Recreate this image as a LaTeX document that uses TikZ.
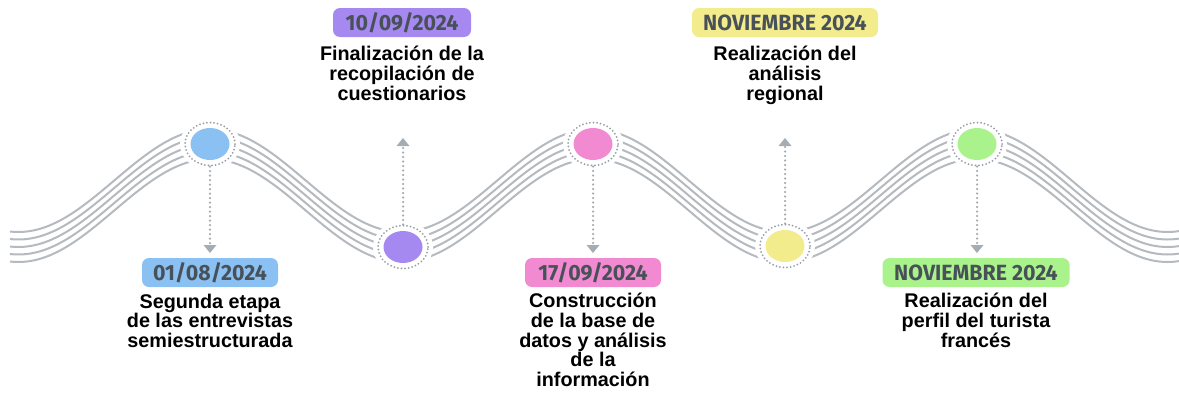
\documentclass[tikz,border=0pt]{standalone}
\usepackage{fontspec}
\setmainfont{Liberation Sans}
\newfontfamily\datefont[FakeStretch=0.97]{Fira Sans}
\usetikzlibrary{arrows.meta,shapes.geometric}
\definecolor{wavegray}{RGB}{180,186,192}
\definecolor{conngray}{RGB}{165,172,179}
\definecolor{ringgray}{RGB}{150,158,166}
\definecolor{datetext}{RGB}{72,80,88}
\definecolor{cblue}{RGB}{138,192,242}
\definecolor{cpurple}{RGB}{165,136,240}
\definecolor{cpink}{RGB}{242,138,210}
\definecolor{cyellow}{RGB}{243,236,140}
\definecolor{cgreen}{RGB}{170,243,140}
\begin{document}
\begin{tikzpicture}[x=1pt,y=-1pt,
  wave/.style={draw=wavegray, line width=2pt},
  halo/.style={ellipse, fill=white, minimum width=60pt, minimum height=52pt, inner sep=0pt},
  ring/.style={ellipse, draw=ringgray, line width=2pt, line cap=round, dash pattern=on 0pt off 3.6pt, minimum width=50pt, minimum height=43pt, inner sep=0pt},
  dotc/.style={ellipse, minimum width=39pt, minimum height=32pt, inner sep=0pt},
  conn/.style={draw=conngray, line width=2.5pt, line cap=round, dash pattern=on 0pt off 4.5pt, -{Triangle[width=13pt,length=8pt,fill=conngray,line width=0pt]}},
  datebox/.style={rounded corners=7pt, minimum height=29pt, inner sep=0pt, text=datetext, font=\datefont\bfseries\fontsize{22}{22}\selectfont},
  desc/.style={align=center, anchor=north, inner sep=0pt, text=black, font=\bfseries\fontsize{19.8}{19.7}\selectfont}]
\useasboundingbox (0,0) rectangle (1179,399);
% waves
\foreach \o in {-15,-7.5,0,7.5,15}
  \draw[wave] plot[domain=10:1179, samples=300, smooth] (\x, {195.5+\o-51.5*cos(0.9399478*(\x-210))});
% milestone circles
\foreach \n/\px/\py/\col in {1/210/144/cblue, 2/403/247/cpurple, 3/593/144/cpink, 4/785/246/cyellow, 5/977/144/cgreen} {
  \node[halo] (h\n) at (\px,\py) {};
  \node[ring] (r\n) at (\px,\py) {};
  \node[dotc, fill=\col] (c\n) at (\px,\py) {};
}
% arrow tip coordinates
\coordinate (a1) at (210,253);
\coordinate (a2) at (403,138);
\coordinate (a3) at (593,253);
\coordinate (a4) at (785,138);
\coordinate (a5) at (977,253);
\draw[conn] (r1.south) -- (a1);
\draw[conn] (r2.north) -- (a2);
\draw[conn] (r3.south) -- (a3);
\draw[conn] (r4.north) -- (a4);
\draw[conn] (r5.south) -- (a5);
% date boxes
\node[datebox, fill=cblue, minimum width=136pt] (d1) at (210,272.5) {01/08/2024};
\node[datebox, fill=cpurple, minimum width=138pt] (d2) at (402,22.5) {10/09/2024};
\node[datebox, fill=cpink, minimum width=136pt] (d3) at (593,272.5) {17/09/2024};
\node[datebox, fill=cyellow, minimum width=186pt] (d4) at (785,22.5) {NOVIEMBRE 2024};
\node[datebox, fill=cgreen, minimum width=187pt] (d5) at (976,272.5) {NOVIEMBRE 2024};
% descriptions
\node[desc] (t1) at (210,293.5) {Segunda etapa\\de las entrevistas\\semiestructurada};
\node[desc] (t2) at (402,46) {Finalización de la\\recopilación de\\cuestionarios};
\node[desc] (t3) at (593,293) {Construcción\\de la base de\\datos y análisis\\de la\\información};
\node[desc] (t4) at (785,46) {Realización del\\análisis\\regional};
\node[desc] (t5) at (976,293) {Realización del\\perfil del turista\\francés};
\end{tikzpicture}
\end{document}
